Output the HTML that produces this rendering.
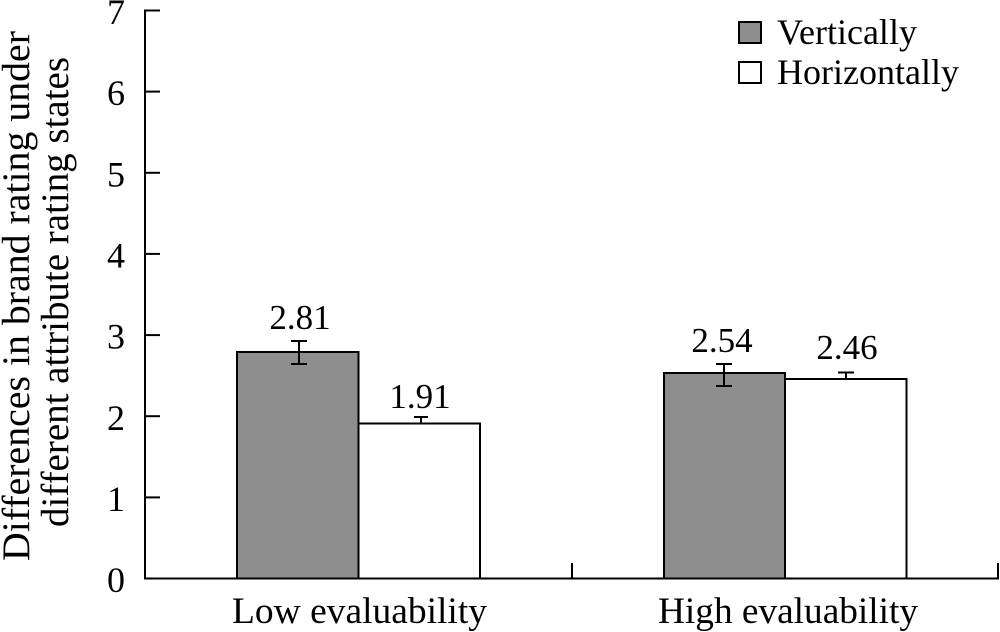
<!DOCTYPE html>
<html>
<head>
<meta charset="utf-8">
<style>
  html, body { margin: 0; padding: 0; background: #fff; }
  svg { display: block; }
  text { font-family: "Liberation Serif", "Times New Roman", serif; fill: #000; }
</style>
</head>
<body>
<svg width="1000" height="632" viewBox="0 0 1000 632" xmlns="http://www.w3.org/2000/svg" font-family="Liberation Serif, Times New Roman, serif">
  <!-- Y axis label -->
  <text transform="translate(29,296) rotate(-90)" text-anchor="middle" font-size="39" textLength="530" lengthAdjust="spacingAndGlyphs">Differences in brand rating under</text>
  <text transform="translate(68,292) rotate(-90)" text-anchor="middle" font-size="39" textLength="470" lengthAdjust="spacingAndGlyphs">different attribute rating states</text>

  <!-- Y tick labels -->
  <g font-size="36" text-anchor="end">
    <text x="125" y="592">0</text>
    <text x="125" y="511">1</text>
    <text x="125" y="430">2</text>
    <text x="125" y="348.5">3</text>
    <text x="125" y="267.5">4</text>
    <text x="125" y="186.5">5</text>
    <text x="125" y="105">6</text>
    <text x="125" y="24">7</text>
  </g>

  <!-- Bars -->
  <g stroke="#000" stroke-width="2">
    <rect x="237" y="352" width="121.5" height="226.5" fill="#8e8e8e"/>
    <rect x="358.5" y="423.5" width="121.5" height="155" fill="#fff"/>
    <rect x="664" y="373" width="121" height="205.5" fill="#8e8e8e"/>
    <rect x="785" y="379" width="121.5" height="199.5" fill="#fff"/>
  </g>

  <!-- Error bars -->
  <g stroke="#000" stroke-width="2" fill="none">
    <line x1="299" y1="341" x2="299" y2="364"/>
    <line x1="291" y1="341" x2="307" y2="341"/>
    <line x1="291" y1="364" x2="307" y2="364"/>

    <line x1="421" y1="417" x2="421" y2="423.5"/>
    <line x1="414" y1="417" x2="428" y2="417"/>

    <line x1="724" y1="364" x2="724" y2="386"/>
    <line x1="716" y1="364" x2="732" y2="364"/>
    <line x1="716" y1="386" x2="732" y2="386"/>

    <line x1="846" y1="372.5" x2="846" y2="379"/>
    <line x1="838" y1="372.5" x2="854" y2="372.5"/>
  </g>

  <!-- Axes -->
  <g stroke="#000" stroke-width="2" fill="none">
    <line x1="145" y1="9.5" x2="145" y2="579.5"/>
    <line x1="144" y1="578.5" x2="999" y2="578.5"/>
    <!-- y ticks -->
    <line x1="145" y1="10.5" x2="160" y2="10.5"/>
    <line x1="145" y1="91.6" x2="160" y2="91.6"/>
    <line x1="145" y1="172.8" x2="160" y2="172.8"/>
    <line x1="145" y1="253.9" x2="160" y2="253.9"/>
    <line x1="145" y1="335.1" x2="160" y2="335.1"/>
    <line x1="145" y1="416.2" x2="160" y2="416.2"/>
    <line x1="145" y1="497.4" x2="160" y2="497.4"/>
    <!-- x ticks -->
    <line x1="572" y1="563" x2="572" y2="578.5"/>
    <line x1="998" y1="563" x2="998" y2="578.5"/>
  </g>

  <!-- Value labels -->
  <g font-size="35" text-anchor="middle">
    <text x="300" y="329">2.81</text>
    <text x="420" y="408">1.91</text>
    <text x="722" y="352">2.54</text>
    <text x="847" y="359">2.46</text>
  </g>

  <!-- X category labels -->
  <text x="359.5" y="623" font-size="37" text-anchor="middle" textLength="255" lengthAdjust="spacingAndGlyphs">Low evaluability</text>
  <text x="788" y="623" font-size="37" text-anchor="middle" textLength="260" lengthAdjust="spacingAndGlyphs">High evaluability</text>

  <!-- Legend -->
  <rect x="739" y="22" width="22" height="21" fill="#8e8e8e" stroke="#000" stroke-width="2"/>
  <rect x="739" y="62" width="22" height="21" fill="#fff" stroke="#000" stroke-width="2"/>
  <text x="777" y="44" font-size="36">Vertically</text>
  <text x="777" y="84" font-size="36">Horizontally</text>
</svg>
</body>
</html>
